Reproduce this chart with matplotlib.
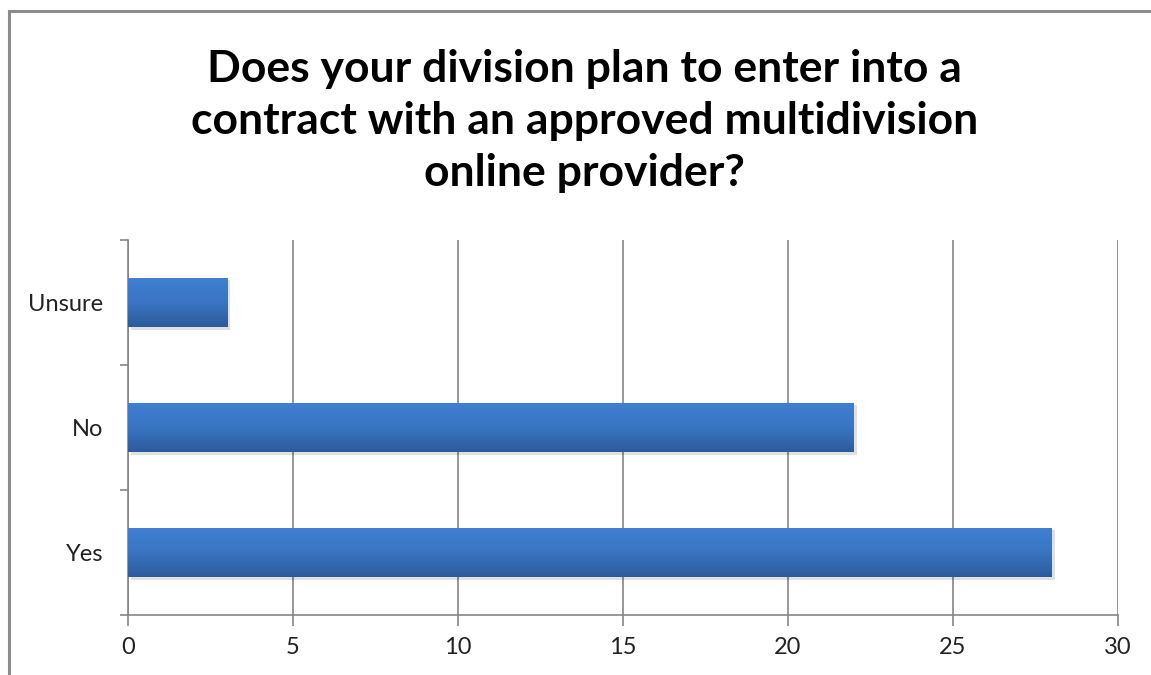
import numpy as np
import matplotlib
matplotlib.use("Agg")
import matplotlib.pyplot as plt
import matplotlib.patheffects as pe
from matplotlib.colors import LinearSegmentedColormap
from matplotlib.lines import Line2D

categories = ["Yes", "No", "Unsure"]
values = [28, 22, 3]
x_ticks = [0, 5, 10, 15, 20, 25, 30]
title = ("Does your division plan to enter into a\n"
         "contract with an approved multidivision\n"
         "online provider?")

plt.rcParams["font.family"] = ["Lato", "DejaVu Sans"]

fig = plt.figure(figsize=(11.51, 6.75), dpi=100)
# chart frame: only top and left edges are visible in the crop
fx, fy = 9 / 1151, 1 - 11 / 675
fig.lines.append(Line2D([fx, 1.0], [fy, fy], transform=fig.transFigure,
                        color="#8c8c8c", linewidth=2.2))
fig.lines.append(Line2D([fx, fx], [0.0, fy], transform=fig.transFigure,
                        color="#8c8c8c", linewidth=2.2))

ax = fig.add_axes([128 / 1151, 1 - 615 / 675, 990 / 1151, 375 / 675])

grad = LinearSegmentedColormap.from_list("bar", ["#2c5b9c", "#3a75c2", "#3f80d2"])
ypos = np.arange(len(categories))
bars = ax.barh(ypos, values, height=0.4, color="none", zorder=3)
for b in bars:
    b.set_path_effects([pe.SimplePatchShadow(offset=(2, -2), shadow_rgbFace="#000000",
                                             alpha=0.12), pe.Normal()])
    x0, y0 = b.get_x(), b.get_y()
    w, h = b.get_width(), b.get_height()
    img = ax.imshow(np.linspace(0, 1, 64).reshape(-1, 1), cmap=grad,
                    extent=[x0, x0 + w, y0, y0 + h], origin="lower",
                    aspect="auto", zorder=4)
    img.set_clip_path(b)

ax.set_xlim(0, 30)
ax.set_ylim(-0.5, len(categories) - 0.5)
ax.set_xticks(x_ticks)
ax.set_xticklabels([str(t) for t in x_ticks], fontsize=17, color="#222222")
ax.set_yticks(ypos)
ax.set_yticklabels(categories, fontsize=17, color="#222222")
ax.tick_params(axis="y", length=0, pad=18)
ax.set_yticks(np.arange(-0.5, len(categories), 1), minor=True)
ax.tick_params(axis="y", which="minor", length=6, color="#868686", width=1.2)
ax.tick_params(axis="x", length=8, color="#868686", width=1.2, pad=8)

ax.grid(axis="x", color="#868686", linewidth=1.2, zorder=0)
ax.set_axisbelow(True)
for s in ["top", "right"]:
    ax.spines[s].set_visible(False)
for s in ["left", "bottom"]:
    ax.spines[s].set_color("#868686")
    ax.spines[s].set_linewidth(1.2)

fig.text(0.508, 1 - 121 / 675, title, ha="center", va="center",
         fontsize=32, fontweight="bold", linespacing=1.36)

fig.savefig("out.png", dpi=100)
